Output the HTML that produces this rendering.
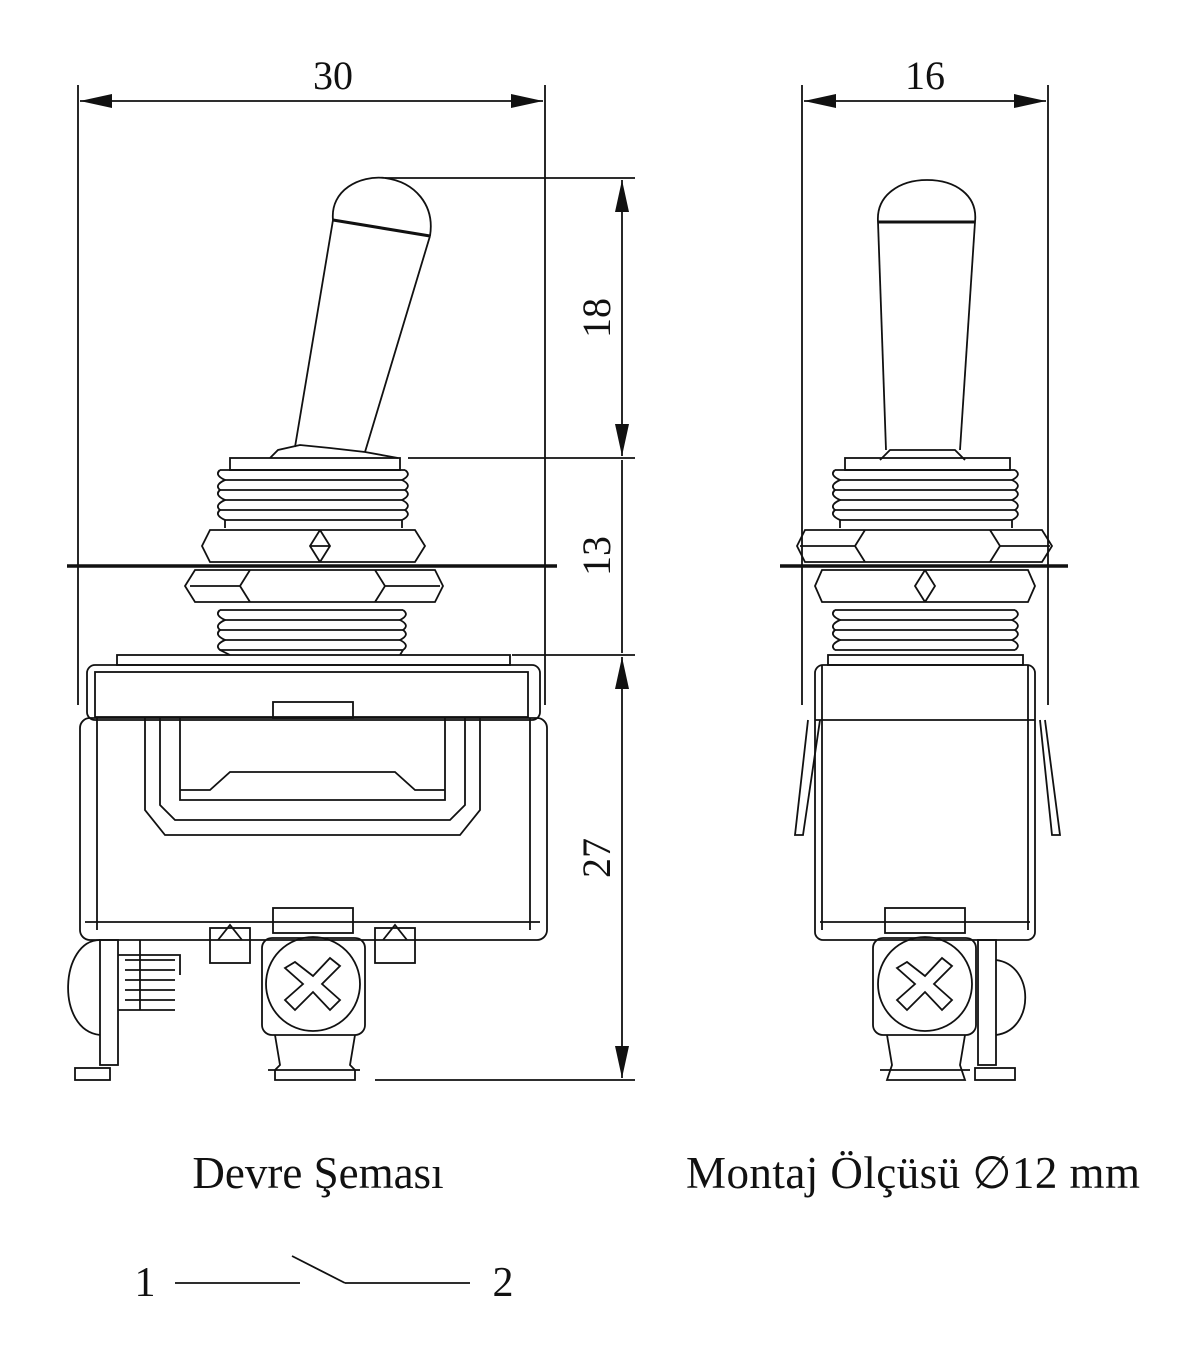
<!DOCTYPE html>
<html><head><meta charset="utf-8"><style>
html,body{margin:0;padding:0;background:#fff;}
svg{display:block;}
text{font-family:"Liberation Serif",serif;fill:#111;}
</style></head><body>
<svg width="1202" height="1356" viewBox="0 0 1202 1356" xmlns="http://www.w3.org/2000/svg">
<defs>
<marker id="a" viewBox="0 0 10 10" refX="10" refY="5" markerWidth="32" markerHeight="14" markerUnits="userSpaceOnUse" orient="auto-start-reverse" preserveAspectRatio="none"><path d="M0,0 L10,5 L0,10 z" fill="#111"/></marker>
</defs>
<g stroke="#111" fill="none" stroke-width="1.8">
<!-- LEFT dims -->
<line x1="78" y1="85" x2="78" y2="705"/>
<line x1="545" y1="85" x2="545" y2="705"/>
<line x1="80" y1="101" x2="543" y2="101" marker-start="url(#a)" marker-end="url(#a)"/>
<line x1="622" y1="180" x2="622" y2="456" marker-start="url(#a)" marker-end="url(#a)"/>
<line x1="622" y1="460" x2="622" y2="653" />
<line x1="622" y1="657" x2="622" y2="1078" marker-start="url(#a)" marker-end="url(#a)"/>
<line x1="385" y1="178" x2="635" y2="178"/>
<line x1="408" y1="458" x2="635" y2="458"/>
<line x1="512" y1="655" x2="635" y2="655"/>
<line x1="375" y1="1080" x2="635" y2="1080"/>
<!-- left lever -->
<path d="M333,220 C330,190 360,175 385,178 C415,182 435,205 430,236"/>
<line x1="333" y1="220" x2="430" y2="236" stroke-width="3"/>
<line x1="333" y1="220" x2="295" y2="447"/>
<line x1="430" y1="236" x2="365" y2="452"/>
<path d="M270,458 L278,450 L300,445 L330,448 L365,452 L398,458"/>
<!-- upper thread left -->
<rect x="230" y="458" width="170" height="12"/>
<path d="M220,470 L405,470 M225,480 L402,480 M220,490 L405,490 M225,500 L402,500 M220,510 L405,510 M225,520 L402,520"/>
<path d="M220,470 Q214,475 225,480 Q214,485 220,490 Q214,495 225,500 Q214,505 220,510 Q214,515 225,520 L225,528"/>
<path d="M405,470 Q412,475 402,480 Q412,485 405,490 Q412,495 402,500 Q412,505 405,510 Q412,515 402,520 L402,528"/>
<!-- upper nut -->
<path d="M210,530 L415,530 L425,546 L415,562 L210,562 L202,546 Z"/>
<path d="M320,530 L310,546 L320,562 M320,530 L330,546 L320,562 M310,546 L330,546"/>
<line x1="67" y1="566" x2="557" y2="566" stroke-width="3.5"/>
<!-- lower nut -->
<path d="M195,570 L435,570 L443,586 L435,602 L195,602 L185,586 Z"/>
<path d="M250,570 L240,586 L250,602 M375,570 L385,586 L375,602 M240,586 L190,586 M385,586 L440,586"/>
<!-- lower thread -->
<path d="M220,610 L403,610 M225,620 L400,620 M220,630 L403,630 M225,640 L400,640 M220,650 L403,650"/>
<path d="M220,610 Q214,615 225,620 Q214,625 220,630 Q214,635 225,640 Q214,645 220,650 L230,655"/>
<path d="M403,610 Q410,615 400,620 Q410,625 403,630 Q410,635 400,640 Q410,645 403,650 L400,655"/>
<!-- body -->
<rect x="117" y="655" width="393" height="10"/>
<rect x="87" y="665" width="453" height="55" rx="8"/>
<rect x="95" y="672" width="433" height="45"/>
<rect x="80" y="718" width="467" height="222" rx="10"/>
<line x1="97" y1="718" x2="97" y2="930"/>
<line x1="530" y1="718" x2="530" y2="930"/>
<line x1="85" y1="922" x2="540" y2="922"/>
<path d="M145,718 L145,810 L165,835 L460,835 L480,810 L480,718"/>
<path d="M160,718 L160,805 L175,820 L450,820 L465,805 L465,718"/>
<path d="M180,718 L180,800 L445,800 L445,718 M180,790 L210,790 L230,772 L395,772 L415,790 L445,790"/>
<rect x="273" y="702" width="80" height="16"/>
<!-- left terminals -->
<rect x="210" y="928" width="40" height="35"/><path d="M218,940 L230,925 L242,940"/>
<rect x="375" y="928" width="40" height="35"/><path d="M383,940 L395,925 L407,940"/>
<rect x="273" y="908" width="80" height="25"/>
<rect x="262" y="938" width="103" height="97" rx="10"/>
<circle cx="313" cy="984" r="47"/>
<path d="M295,962 L313,976 L330,958 L340,966 L322,984 L340,1000 L330,1010 L313,992 L295,1010 L285,1000 L303,984 L285,968 Z"/>
<path d="M275,1035 L280,1065 L275,1070 L275,1080 L355,1080 L355,1070 L350,1065 L355,1035"/>
<line x1="268" y1="1070" x2="360" y2="1070"/>
<!-- left side screw -->
<rect x="100" y="940" width="18" height="125"/>
<path d="M100,940 C60,940 55,1030 100,1035"/>
<path d="M118,955 L180,955 L180,975 M140,940 L140,1010 M118,1010 L175,1010"/>
<path d="M125,960 L175,960 M125,970 L175,970 M125,980 L175,980 M125,990 L175,990 M125,1000 L175,1000"/>
<rect x="75" y="1068" width="35" height="12"/>
<!-- RIGHT dims -->
<line x1="802" y1="85" x2="802" y2="705"/>
<line x1="1048" y1="85" x2="1048" y2="705"/>
<line x1="804" y1="101" x2="1046" y2="101" marker-start="url(#a)" marker-end="url(#a)"/>
<!-- right lever -->
<path d="M878,222 C876,195 900,180 927,180 C955,180 978,195 975,222"/>
<line x1="878" y1="222" x2="975" y2="222" stroke-width="3"/>
<line x1="878" y1="222" x2="886" y2="450"/>
<line x1="975" y1="222" x2="960" y2="450"/>
<path d="M880,460 L890,450 L955,450 L965,460"/>
<rect x="845" y="458" width="165" height="12"/>
<path d="M835,470 L1015,470 M840,480 L1012,480 M835,490 L1015,490 M840,500 L1012,500 M835,510 L1015,510 M840,520 L1012,520"/>
<path d="M835,470 Q829,475 840,480 Q829,485 835,490 Q829,495 840,500 Q829,505 835,510 Q829,515 840,520 L840,528"/>
<path d="M1015,470 Q1022,475 1012,480 Q1022,485 1015,490 Q1022,495 1012,500 Q1022,505 1015,510 Q1022,515 1012,520 L1012,528"/>
<path d="M805,530 L1042,530 L1052,546 L1042,562 L805,562 L797,546 Z"/>
<path d="M865,530 L855,546 L865,562 M990,530 L1000,546 L990,562 M800,546 L855,546 M1000,546 L1050,546"/>
<line x1="780" y1="566" x2="1068" y2="566" stroke-width="3.5"/>
<path d="M822,570 L1028,570 L1035,586 L1028,602 L822,602 L815,586 Z"/>
<path d="M925,570 L915,586 L925,602 M925,570 L935,586 L925,602"/>
<path d="M835,610 L1015,610 M840,620 L1012,620 M835,630 L1015,630 M840,640 L1012,640 M835,650 L1015,650"/>
<path d="M835,610 Q829,615 840,620 Q829,625 835,630 Q829,635 840,640 Q829,645 835,650"/>
<path d="M1015,610 Q1022,615 1012,620 Q1022,625 1015,630 Q1022,635 1012,640 Q1022,645 1015,650"/>
<rect x="828" y="655" width="195" height="10"/>
<rect x="815" y="665" width="220" height="275" rx="8"/>
<line x1="822" y1="665" x2="822" y2="930"/><line x1="1028" y1="665" x2="1028" y2="930"/>
<line x1="815" y1="720" x2="1035" y2="720"/><line x1="820" y1="922" x2="1030" y2="922"/>
<path d="M808,720 L795,835 L803,835 L820,720"/>
<path d="M1040,720 L1052,835 L1060,835 L1045,720"/>
<rect x="885" y="908" width="80" height="25"/>
<rect x="873" y="938" width="103" height="97" rx="10"/>
<circle cx="925" cy="984" r="47"/>
<path d="M907,962 L925,976 L942,958 L952,966 L934,984 L952,1000 L942,1010 L925,992 L907,1010 L897,1000 L915,984 L897,968 Z"/>
<path d="M887,1035 L892,1065 L887,1080 L965,1080 L960,1065 L965,1035"/>
<line x1="880" y1="1070" x2="970" y2="1070"/>
<rect x="978" y="940" width="18" height="125"/>
<path d="M996,960 C1035,965 1035,1030 996,1035"/>
<rect x="975" y="1068" width="40" height="12"/>
<!-- circuit -->
<line x1="175" y1="1283" x2="300" y2="1283"/>
<line x1="292" y1="1256" x2="345" y2="1283"/>
<line x1="345" y1="1283" x2="470" y2="1283"/>
</g>
<text x="333" y="89" font-size="40" text-anchor="middle">30</text>
<text x="925" y="89" font-size="40" text-anchor="middle">16</text>
<text transform="translate(610,318) rotate(-90)" font-size="40" text-anchor="middle">18</text>
<text transform="translate(610,556) rotate(-90)" font-size="40" text-anchor="middle">13</text>
<text transform="translate(610,858) rotate(-90)" font-size="40" text-anchor="middle">27</text>
<text x="318" y="1188" font-size="45" text-anchor="middle">Devre Şeması</text>
<text x="686" y="1188" font-size="45" textLength="454">Montaj Ölçüsü ∅12 mm</text>
<text x="145" y="1296" font-size="42" text-anchor="middle">1</text>
<text x="503" y="1296" font-size="42" text-anchor="middle">2</text>
</svg>
</body></html>
